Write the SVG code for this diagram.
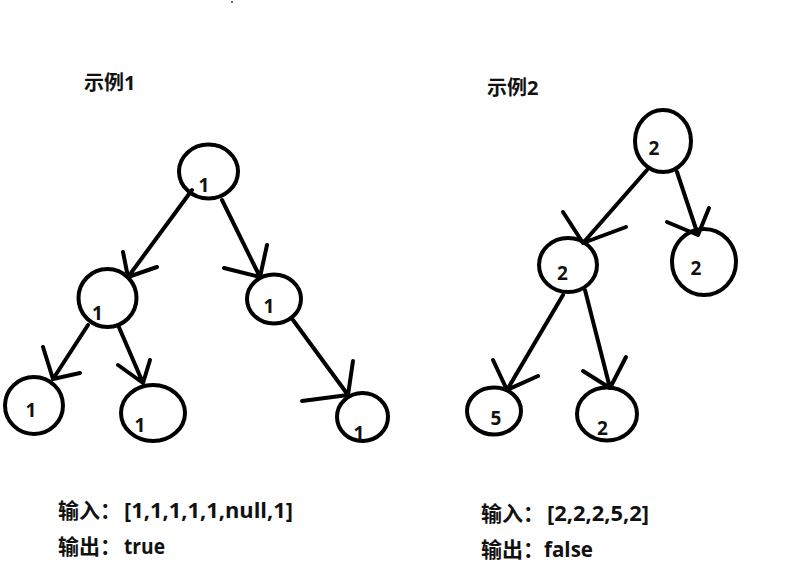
<svg xmlns="http://www.w3.org/2000/svg" width="795" height="576" viewBox="0 0 795 576">
<style>
.n{fill:none;stroke:#000;stroke-width:4}
.e{fill:none;stroke:#000;stroke-width:4;stroke-linecap:round;stroke-linejoin:round}
.l{font-family:"Open Sans","Noto Sans CJK SC",sans-serif;font-weight:bold;font-size:19px;fill:#111;text-anchor:middle}
.t{font-family:"Open Sans","Noto Sans CJK SC",sans-serif;font-weight:bold;font-size:20px;fill:#111}
.b{font-family:"Open Sans","Noto Sans CJK SC",sans-serif;font-weight:bold;font-size:21px;fill:#111}
</style>
<rect width="795" height="576" fill="#fff"/>
<rect x="231" y="1" width="2" height="2" fill="#666"/>
<text class="t" x="84" y="90">示例1</text>
<text class="t" x="487" y="95">示例2</text>
<g id="connectors">
<path class="e" d="M192,190 L128,277 M123,252 L128,277 L157,267"/>
<path class="e" d="M222,200 L260,277 M267,245 L260,277 L224,268"/>
<path class="e" d="M88,325 L53,379 M43,347 L53,379 L80,373"/>
<path class="e" d="M118,325 L143,383 M118,365 L143,383 L150,360"/>
<path class="e" d="M293,320 L348,395 M353,361 L348,395 L302,401"/>
<path class="e" d="M647,170 L583,243 M563,212 L583,243 L626,227"/>
<path class="e" d="M677,172 L698,235 M709,208 L698,235 L667,222"/>
<path class="e" d="M563,295 L507,390 M493,360 L507,390 L538,376"/>
<path class="e" d="M585,290 L610,388 M583,371 L610,388 L626,357"/>
</g>
<g id="t1-root"><ellipse class="n" cx="208.5" cy="171.5" rx="29.5" ry="27"/><text class="l" x="204" y="192">1</text></g>
<g id="t1-l"><ellipse class="n" cx="107.5" cy="298" rx="29" ry="29"/><text class="l" x="97.5" y="320">1</text></g>
<g id="t1-r"><ellipse class="n" cx="274" cy="299" rx="27" ry="24.5"/><text class="l" x="269" y="313">1</text></g>
<g id="t1-ll"><ellipse class="n" cx="34" cy="405.5" rx="29" ry="28.5"/><text class="l" x="31" y="417">1</text></g>
<g id="t1-lr"><ellipse class="n" cx="153" cy="413" rx="32" ry="28"/><text class="l" x="140" y="432">1</text></g>
<g id="t1-rr"><ellipse class="n" cx="362.5" cy="417" rx="25.5" ry="24"/><text class="l" x="359" y="440">1</text></g>
<g id="t2-root"><ellipse class="n" cx="663" cy="141" rx="28" ry="31"/><text class="l" x="654" y="155">2</text></g>
<g id="t2-l"><ellipse class="n" cx="568" cy="265" rx="29" ry="27"/><text class="l" x="562.5" y="280">2</text></g>
<g id="t2-r"><ellipse class="n" cx="704" cy="262" rx="32" ry="33"/><text class="l" x="696" y="275">2</text></g>
<g id="t2-ll"><ellipse class="n" cx="494" cy="411" rx="27" ry="23.5"/><text class="l" x="496" y="425">5</text></g>
<g id="t2-lr"><ellipse class="n" cx="607" cy="414" rx="30" ry="26.5"/><text class="l" x="602.5" y="435">2</text></g>
<text class="b" x="58" y="518">输入：<tspan x="124" textLength="169" lengthAdjust="spacingAndGlyphs">[1,1,1,1,1,null,1]</tspan></text>
<text class="b" x="58" y="554">输出：<tspan x="124" textLength="41" lengthAdjust="spacingAndGlyphs">true</tspan></text>
<text class="b" x="481" y="521">输入：<tspan x="547" textLength="102" lengthAdjust="spacingAndGlyphs">[2,2,2,5,2]</tspan></text>
<text class="b" x="481" y="557">输出：<tspan x="544" textLength="49" lengthAdjust="spacingAndGlyphs">false</tspan></text>
</svg>
